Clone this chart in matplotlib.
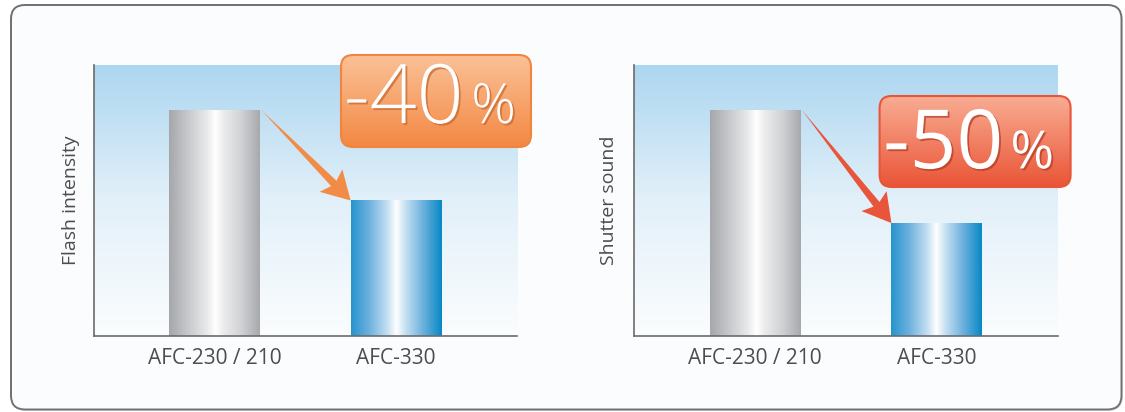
import numpy as np
import matplotlib
matplotlib.use("Agg")
import matplotlib.pyplot as plt
from matplotlib.colors import LinearSegmentedColormap
from matplotlib.patches import FancyBboxPatch, Polygon
from matplotlib.transforms import IdentityTransform
import matplotlib.patheffects as pe

# ---------------- data ----------------
categories = ["AFC-230 / 210", "AFC-330"]
flash_values = [100, 60]
shutter_values = [100, 50]
axis_labels = ["Flash intensity", "Shutter sound"]
badge_numbers = ["-40", "-50"]
badge_unit = "%"
y_max = 120

# ---------------- styles ----------------
W, H = 1125, 412
FONT = "Open Sans"
TXT = "#4d4d4d"
bg_cmap = LinearSegmentedColormap.from_list("bg", ["#fbfdfe", "#e2f0f9", "#acd6f0"])
gray_cmap = LinearSegmentedColormap.from_list(
    "gray", [(0, "#a6a7ab"), (0.22, "#c9cacd"), (0.42, "#e9eaeb"), (0.51, "#ffffff"),
             (0.6, "#ececed"), (0.8, "#d0d1d4"), (1, "#a8a9ad")])
blue_cmap = LinearSegmentedColormap.from_list(
    "blue", [(0, "#2694ce"), (0.2, "#6db1de"), (0.4, "#c4dff2"), (0.5, "#ffffff"),
             (0.6, "#c6e0f2"), (0.8, "#6aafdc"), (1, "#0689c6")])
bar_cmaps = [gray_cmap, blue_cmap]

badge_styles = [
    dict(box=(341, 55, 531, 147), top="#fbc197", bottom="#f28843", edge="#f1853f",
         shadow="#c7652b", size=59, weight="light", num_x=0.645, pct_x=0.685, base=0.26,
         pct_size=40, arrow="#f28b45"),
    dict(box=(879.6, 96, 1070.6, 187), top="#f8ad93", bottom="#ea5436", edge="#e9553a",
         shadow="#b03a22", size=59, weight="normal", num_x=0.648, pct_x=0.685, base=0.205,
         pct_size=38, arrow="#e9553b"),
]
axes_boxes = [(93.6, 65, 517, 336), (634, 65, 1058, 336)]
labelpads = [10, 11.5]

fig = plt.figure(figsize=(W / 100, H / 100), dpi=100)
fig.patch.set_facecolor("white")

# outer frame with a faint shadow
shadow = FancyBboxPatch((12.5, 1.0), 1110.5, 404.5, boxstyle="round,pad=0,rounding_size=14",
                        transform=IdentityTransform(), facecolor="#d8d8d8", edgecolor="none",
                        alpha=0.6, zorder=-2)
fig.add_artist(shadow)
frame = FancyBboxPatch((11, 2.5), 1110.5, 404.5, boxstyle="round,pad=0,rounding_size=14",
                       transform=IdentityTransform(), facecolor="#fbfcfd", edgecolor="#707072",
                       linewidth=1.4, zorder=-1)
fig.add_artist(frame)


def px_axes(box):
    x0, y0, x1, y1 = box
    return fig.add_axes([x0 / W, 1 - y1 / H, (x1 - x0) / W, (y1 - y0) / H])


panels = [flash_values, shutter_values]
x = np.arange(len(categories))
bw = 0.5
xlim = (-0.667, 1.667)

for i, values in enumerate(panels):
    ax = px_axes(axes_boxes[i])
    ax.set_facecolor("none")
    grad = np.linspace(0, 1, 256).reshape(-1, 1)
    ax.imshow(grad, extent=[xlim[0], xlim[1], 0, y_max], aspect="auto", cmap=bg_cmap,
              origin="lower", zorder=0)
    bars = ax.bar(x, values, width=bw, color="none", edgecolor="none", zorder=2)
    hgrad = np.linspace(0, 1, 256).reshape(1, -1)
    for b, cm in zip(bars, bar_cmaps):
        im = ax.imshow(hgrad, extent=[b.get_x(), b.get_x() + b.get_width(), 0, b.get_height()],
                       aspect="auto", cmap=cm, zorder=2)
        im.set_clip_path(b)
    ax.set_xlim(*xlim)
    ax.set_ylim(0, y_max)
    for s in ["top", "right"]:
        ax.spines[s].set_visible(False)
    for s in ["left", "bottom"]:
        ax.spines[s].set_color("#6b6b6b")
        ax.spines[s].set_linewidth(1.2)
        ax.spines[s].set_zorder(3)
    ax.set_yticks([])
    ax.set_xticks(x, categories)
    ax.tick_params(axis="x", length=0, pad=9, labelsize=15, labelcolor=TXT)
    for t in ax.get_xticklabels():
        t.set_fontfamily(FONT)
    ax.set_ylabel(axis_labels[i], fontsize=14, color=TXT, family=FONT, labelpad=labelpads[i])

    # arrow from top-right of first bar to top-left of second bar
    st = badge_styles[i]
    p0 = ax.transData.transform((x[0] + bw / 2, values[0])) + np.array([1.5, 0])
    p1 = ax.transData.transform((x[1] - bw / 2, values[1]))
    d = p1 - p0
    L = np.hypot(*d)
    u = d / L
    n = np.array([-u[1], u[0]])
    head_len, head_hw, shaft_hw = 28.0, 16.0, 3.8
    base = p1 - u * head_len
    notch = p1 - u * (head_len - 4)
    poly = [p0, notch + n * shaft_hw, base + n * head_hw, p1, base - n * head_hw,
            notch - n * shaft_hw]
    fig.add_artist(Polygon(poly, closed=True, transform=IdentityTransform(),
                           facecolor=st["arrow"], edgecolor="none", zorder=5))

    # badge
    bx0, by0, bx1, by1 = st["box"]
    axb = px_axes(st["box"])
    axb.set_zorder(10)
    axb.axis("off")
    axb.set_xlim(0, 1)
    axb.set_ylim(0, 1)
    bcmap = LinearSegmentedColormap.from_list("badge", [st["bottom"], st["top"]])
    gim = axb.imshow(np.linspace(0, 1, 256).reshape(-1, 1), extent=[0, 1, 0, 1],
                     aspect="auto", cmap=bcmap, origin="lower", zorder=1)
    wpx, hpx = bx1 - bx0, by1 - by0
    rs = 12.0 / wpx
    clip = FancyBboxPatch((0, 0), 1, 1, boxstyle=f"round,pad=0,rounding_size={rs}",
                          mutation_aspect=wpx / hpx, transform=axb.transAxes,
                          facecolor="none", edgecolor="none")
    axb.add_patch(clip)
    gim.set_clip_path(clip)
    edge = FancyBboxPatch((0, 0), 1, 1, boxstyle=f"round,pad=0,rounding_size={rs}",
                          mutation_aspect=wpx / hpx, transform=axb.transAxes,
                          facecolor="none", edgecolor=st["edge"], linewidth=1.5,
                          clip_on=False, zorder=2)
    axb.add_patch(edge)
    eff = [pe.withSimplePatchShadow(offset=(1.3, -1.3), shadow_rgbFace=st["shadow"], alpha=0.7)]
    axb.text(st["num_x"], st["base"], badge_numbers[i], transform=axb.transAxes, ha="right",
             va="baseline", fontsize=st["size"], color="white", family=FONT,
             fontweight=st["weight"], path_effects=eff, zorder=3)
    axb.text(st["pct_x"], st["base"], badge_unit, transform=axb.transAxes, ha="left",
             va="baseline", fontsize=st["pct_size"], color="white", family=FONT,
             fontweight=st["weight"], path_effects=eff, zorder=3)

fig.savefig("out.png", dpi=100, facecolor="white")
